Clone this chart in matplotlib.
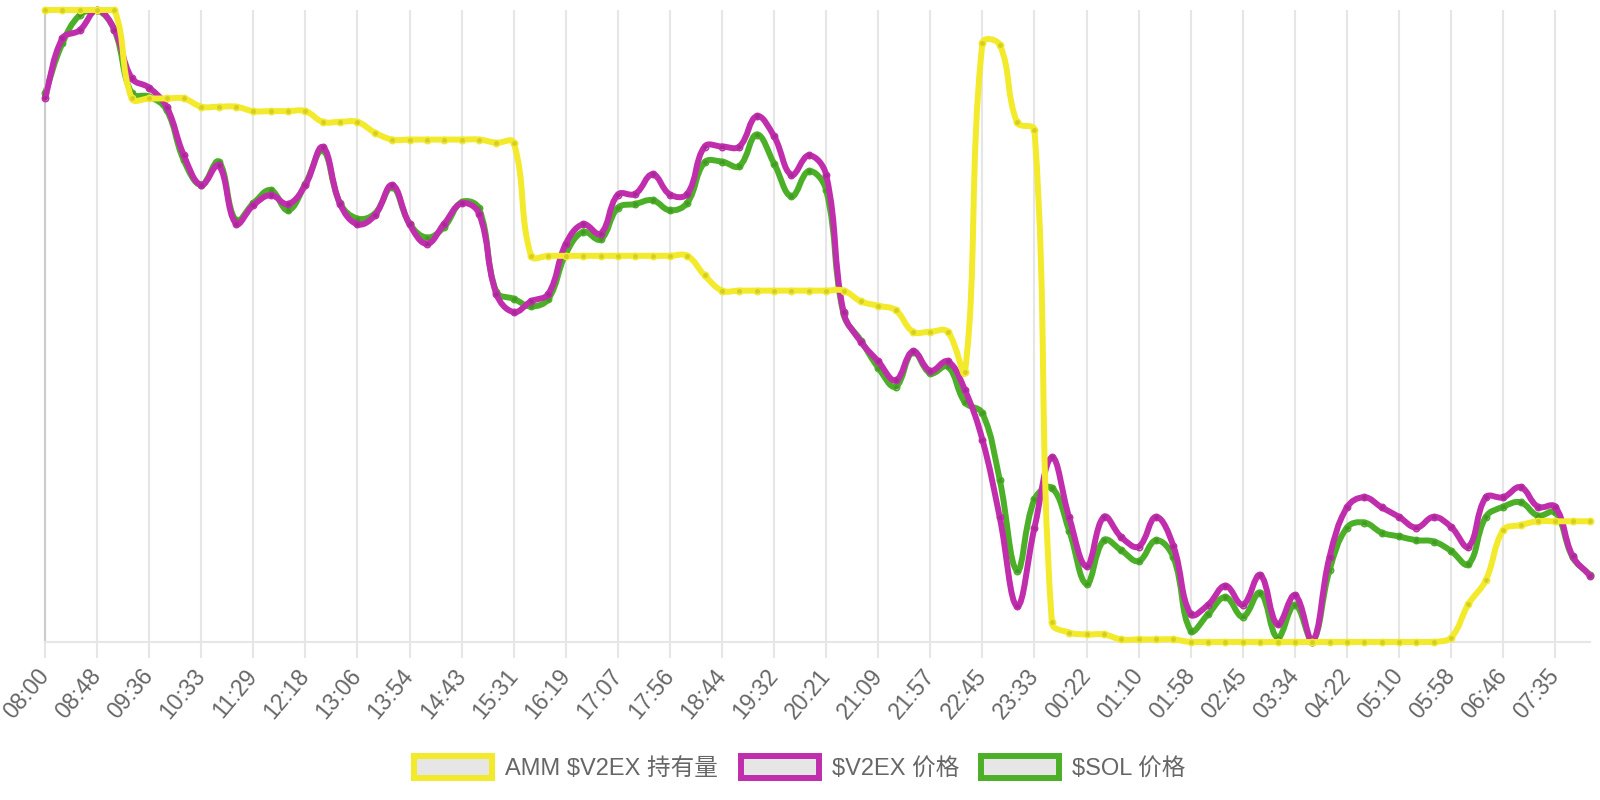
import numpy as np
import matplotlib.pyplot as plt
from matplotlib.path import Path
from matplotlib.patches import PathPatch, Rectangle

plt.rcParams['font.family'] = ['Liberation Sans', 'Noto Sans CJK SC']

# x-axis labels (one every 3 samples)
time_labels = ['08:00', '08:48', '09:36', '10:33', '11:29', '12:18', '13:06', '13:54',
               '14:43', '15:31', '16:19', '17:07', '17:56', '18:44', '19:32', '20:21',
               '21:09', '21:57', '22:45', '23:33', '00:22', '01:10', '01:58', '02:45',
               '03:34', '04:22', '05:10', '05:58', '06:46', '07:35']

# normalised values (each series scaled to its own hidden axis, 0-100)
amm_hold = [100, 100, 100, 100, 100, 86.0, 86.0, 86.0, 86.0, 84.7,
            84.7, 84.7, 84.0, 84.0, 84.0, 84.0, 82.3, 82.3, 82.3, 80.6,
            79.5, 79.5, 79.5, 79.5, 79.5, 79.5, 79.0, 79.0, 61.1, 61.1,
            61.1, 61.1, 61.1, 61.1, 61.1, 61.1, 61.1, 61.1, 58.0, 55.6,
            55.6, 55.6, 55.6, 55.6, 55.6, 55.6, 55.6, 53.9, 53.2, 52.5,
            49.1, 49.1, 49.1, 42.8, 94.8, 94.5, 82.2, 81.0, 3.1, 1.5,
            1.2, 1.2, 0.4, 0.4, 0.4, 0.4, 0, 0, 0, 0,
            0, 0, 0, 0, 0, 0, 0, 0, 0, 0,
            0, 0.7, 6.0, 9.8, 17.7, 18.5, 19.1, 19.1, 19.1, 19.1]

v2ex_price = [86.1, 95.5, 96.8, 100, 96.9, 89.2, 87.7, 84.7, 77.0, 72.3,
              75.4, 66.2, 69.1, 70.7, 69.3, 72.3, 78.3, 69.3, 66.1, 67.5,
              72.3, 66.1, 63.0, 66.2, 69.4, 67.8, 55.1, 52.2, 53.9, 55.1,
              63.0, 66.1, 64.6, 70.8, 70.9, 74.0, 70.8, 70.9, 78.4, 78.4,
              78.4, 83.2, 80.0, 73.9, 77.0, 73.9, 52.2, 47.5, 44.4, 41.4,
              46.0, 42.9, 44.4, 39.8, 32.0, 19.7, 5.7, 18.1, 29.2, 19.7,
              12.0, 19.8, 16.6, 15.1, 19.8, 15.2, 4.4, 5.9, 8.9, 5.9,
              10.6, 2.8, 7.4, 0.0, 13.5, 21.3, 22.9, 21.3, 19.8, 18.1,
              19.8, 18.2, 15.1, 22.9, 22.9, 24.5, 21.4, 21.4, 13.6, 10.5]

sol_price = [86.8, 94.7, 99.2, 100, 96.8, 86.8, 86.3, 84.2, 76.2, 72.3,
             76.0, 66.7, 69.4, 71.5, 68.3, 72.5, 77.8, 69.4, 67.0, 67.8,
             72.0, 66.2, 64.0, 65.7, 69.6, 68.6, 55.4, 54.3, 53.1, 54.3,
             61.4, 64.9, 63.7, 68.7, 69.3, 69.9, 68.3, 69.5, 75.9, 76.0,
             75.3, 80.3, 75.7, 70.5, 74.5, 71.5, 51.9, 47.7, 43.4, 40.4,
             45.9, 42.5, 43.6, 37.9, 36.2, 25.6, 11.3, 22.6, 24.4, 17.6,
             9.2, 16.1, 14.5, 12.8, 16.1, 13.4, 1.8, 4.4, 7.1, 4.0,
             7.8, 0.7, 5.9, 0.0, 11.4, 18.1, 18.9, 17.3, 16.7, 16.1,
             15.9, 14.4, 12.3, 19.8, 21.4, 22.1, 20.0, 20.5, 13.4, 10.6]

series_names = ['AMM $V2EX 持有量', '$V2EX 价格', '$SOL 价格']
series_colors = ['#f2ea2a', '#c12ead', '#4caf28']
series_data = [amm_hold, v2ex_price, sol_price]
series_z = [6, 4, 2]


def spline_path(ax, xs, ys, tension=0.4):
    # bezier smoothing in pixel space, control points kept inside the plot area
    pts = ax.transData.transform(np.column_stack([xs, ys]))
    prev = np.vstack([pts[:1], pts[:-1]])
    nxt = np.vstack([pts[1:], pts[-1:]])
    d01 = np.hypot(*(pts - prev).T)
    d12 = np.hypot(*(nxt - pts).T)
    tot = d01 + d12
    s01 = np.divide(d01, tot, out=np.zeros_like(tot), where=tot > 0)
    s12 = np.divide(d12, tot, out=np.zeros_like(tot), where=tot > 0)
    diff = nxt - prev
    cp_in = pts - (tension * s01)[:, None] * diff
    cp_out = pts + (tension * s12)[:, None] * diff
    x0, y0, x1, y1 = ax.bbox.extents
    for cp in (cp_in, cp_out):
        cp[:, 0] = np.clip(cp[:, 0], x0, x1)
        cp[:, 1] = np.clip(cp[:, 1], y0, y1)
    verts = [pts[0]]
    codes = [Path.MOVETO]
    for i in range(len(pts) - 1):
        verts += [cp_out[i], cp_in[i + 1], pts[i + 1]]
        codes += [Path.CURVE4] * 3
    verts = ax.transData.inverted().transform(np.array(verts))
    return Path(verts, codes)


fig = plt.figure(figsize=(16, 8), dpi=100)
ax = fig.add_axes([45 / 1600, 1 - 642 / 800, 1545 / 1600, 632 / 800])
n = len(amm_hold)
x = np.arange(n)
ax.set_xlim(0, n - 1)
ax.set_ylim(0, 100)

for name, data, color, z in zip(series_names, series_data, series_colors, series_z):
    path = spline_path(ax, x, np.array(data, dtype=float))
    ax.add_patch(PathPatch(path, fill=False, edgecolor=color, lw=4.3,
                           joinstyle='round', capstyle='round', zorder=z, clip_on=False))
    ax.plot(x, data, 'o', ms=4.6, mfc=(0, 0, 0, 0.12), mec=color, mew=1.1,
            zorder=z + 0.5, clip_on=False)

ax.set_xticks(x[::3])
ax.set_xticklabels(time_labels, rotation=50, ha='right', va='center',
                   rotation_mode='anchor')
ax.set_yticks([])
ax.grid(axis='x', color='#e6e6e6', lw=1.5)
ax.set_axisbelow(True)
ax.tick_params(axis='x', length=11.5, width=1.5, color='#e6e6e6', pad=10,
               labelsize=16.5, labelcolor='#666666')
for side in ['top', 'right']:
    ax.spines[side].set_visible(False)
ax.spines['left'].set_color('#cccccc')
ax.spines['left'].set_linewidth(1.5)
ax.spines['bottom'].set_color('#e6e6e6')
ax.spines['bottom'].set_linewidth(1.5)

handles = [Rectangle((0, 0), 1, 1, facecolor='#e6e6e6', edgecolor=c, lw=4.3)
           for c in series_colors]
fig.legend(handles, series_names, loc='center', bbox_to_anchor=(0.5, 0.04),
           ncol=3, frameon=False, fontsize=17, labelcolor='#666666',
           handlelength=3.3, handleheight=1.1, handletextpad=0.55,
           columnspacing=0.95)

fig.savefig('out.png', dpi=100)
